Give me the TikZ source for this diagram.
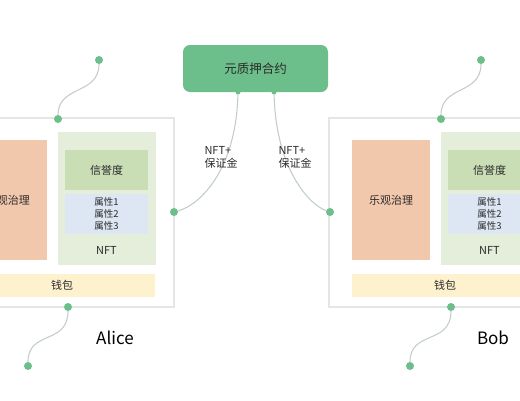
\documentclass[tikz,border=0pt]{standalone}
\usepackage{fontspec}
\setmainfont{Noto Sans CJK SC}
\usepackage{tikz}

\definecolor{contractgreen}{HTML}{6CBE8B}
\definecolor{framegray}{HTML}{E3E6E4}
\definecolor{govorange}{HTML}{F2C8AC}
\definecolor{nftgreen}{HTML}{E4EEDA}
\definecolor{repgreen}{HTML}{C9DEB5}
\definecolor{attrblue}{HTML}{DDE7F3}
\definecolor{walletyellow}{HTML}{FDF1CE}
\definecolor{linkgray}{HTML}{C3CEC9}
\definecolor{inkgray}{HTML}{2B2B2B}

\tikzset{
  contract/.style={fill=contractgreen, rounded corners=7pt, minimum width=145pt,
    minimum height=47pt, font=\fontsize{12.5}{14}\selectfont, text=inkgray},
  outerbox/.style={draw=framegray, line width=1.2pt, fill=white,
    minimum width=228pt, minimum height=189pt},
  govbox/.style={fill=govorange, minimum width=78pt, minimum height=120pt,
    font=\fontsize{11}{13}\selectfont, text=inkgray},
  nftbox/.style={fill=nftgreen, minimum width=98pt, minimum height=133pt},
  repbox/.style={fill=repgreen, minimum width=83pt, minimum height=40pt,
    font=\fontsize{11}{13}\selectfont, text=inkgray},
  attrbox/.style={fill=attrblue, minimum width=83pt, minimum height=38pt, align=center,
    font=\fontsize{9.5}{12}\selectfont, text=inkgray},
  walletbox/.style={fill=walletyellow, minimum width=186pt, minimum height=23pt,
    font=\fontsize{11}{13}\selectfont, text=inkgray},
  plain/.style={font=\fontsize{11}{13}\selectfont, text=inkgray},
  owner/.style={font=\fontsize{17}{20}\selectfont, text=black},
  dot/.style={circle, fill=contractgreen, inner sep=0pt, minimum size=8pt},
  link/.style={draw=linkgray, line width=1.1pt},
}

\begin{document}
\begin{tikzpicture}[x=1pt,y=-1pt]
  \useasboundingbox (0,0) rectangle (520,400);
  \clip (0,0) rectangle (520,400);

  % contract
  \node[contract] (contract) at (255.5,68.5) {元质押合约};
  \node[dot, minimum size=5pt] (outL) at (238,92) {};
  \node[dot, minimum size=5pt] (outR) at (274,92) {};

  % Alice
  \node[outerbox] (alice) at (60,212.5) {};
  \node[govbox] (aliceGov) at (8,200) {乐观治理};
  \node[nftbox] (aliceNft) at (106.5,198.5) {};
  \node[repbox] (aliceRep) at (106.5,170) {信誉度};
  \node[attrbox] (aliceAttr) at (106.5,214) {属性1\\属性2\\属性3};
  \node[plain] (aliceNftText) at (106.5,250) {NFT};
  \node[walletbox] (aliceWallet) at (62,285.5) {钱包};
  \node[owner] (aliceName) at (115,338) {Alice};

  % Bob
  \node[outerbox] (bob) at (443,212.5) {};
  \node[govbox] (bobGov) at (391,200) {乐观治理};
  \node[nftbox] (bobNft) at (489.5,198.5) {};
  \node[repbox] (bobRep) at (489.5,170) {信誉度};
  \node[attrbox] (bobAttr) at (489.5,214) {属性1\\属性2\\属性3};
  \node[plain] (bobNftText) at (489.5,250) {NFT};
  \node[walletbox] (bobWallet) at (445,285.5) {钱包};
  \node[owner] (bobName) at (493,338) {Bob};

  % dots on the frames
  \node[dot] (aliceIn) at (174,212) {};
  \node[dot] (aliceTop) at (58,119) {};
  \node[dot] (aliceUp) at (99,60) {};
  \node[dot] (aliceBot) at (68,307) {};
  \node[dot] (aliceDown) at (28,366) {};
  \node[dot] (bobIn) at (330,212) {};
  \node[dot] (bobTop) at (441,119) {};
  \node[dot] (bobUp) at (481,60) {};
  \node[dot] (bobBot) at (451,307) {};
  \node[dot] (bobDown) at (410,366) {};

  % links
  \draw[link] (outL) .. controls (236,170) and (200,205) .. (aliceIn);
  \draw[link] (outR) .. controls (276,170) and (310,205) .. (bobIn);
  \draw[link] (aliceTop) .. controls +(0,-34) and +(0,35) .. (aliceUp);
  \draw[link] (aliceBot) .. controls +(0,38) and +(0,-36) .. (aliceDown);
  \draw[link] (bobTop) .. controls +(0,-34) and +(0,35) .. (bobUp);
  \draw[link] (bobBot) .. controls +(0,38) and +(0,-36) .. (bobDown);

  \node[plain, align=left, anchor=west] (tagL) at (201,157.5) {NFT+\\保证金};
  \node[plain, align=left, anchor=west] (tagR) at (275,157.5) {NFT+\\保证金};
\end{tikzpicture}
\end{document}
